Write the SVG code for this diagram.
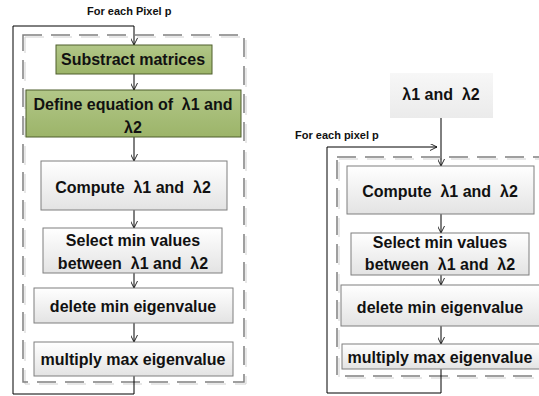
<svg xmlns="http://www.w3.org/2000/svg" width="539" height="396" viewBox="0 0 539 396">
<defs>
<linearGradient id="gGray" x1="0" y1="0" x2="0" y2="1">
<stop offset="0" stop-color="#ffffff"/>
<stop offset="1" stop-color="#e3e3e3"/>
</linearGradient>
<linearGradient id="gGreen" x1="0" y1="0" x2="0" y2="1">
<stop offset="0" stop-color="#b2c788"/>
<stop offset="1" stop-color="#9cb469"/>
</linearGradient>
<linearGradient id="gLight" x1="0" y1="0" x2="0" y2="1">
<stop offset="0" stop-color="#f7f7f7"/>
<stop offset="1" stop-color="#ebebeb"/>
</linearGradient>
<marker id="arr" viewBox="0 0 10 10" refX="10" refY="5" markerWidth="7" markerHeight="7" markerUnits="userSpaceOnUse" orient="auto">
<path d="M0,0 L10,5 L0,10" fill="none" stroke="#000" stroke-width="1.2"/>
</marker>
</defs>
<style>
text{font-family:"Liberation Sans",Arial,sans-serif;font-weight:bold;fill:#111;white-space:pre;}
.t{font-size:16px;text-anchor:middle;}
.s{font-size:11px;}
.gray{fill:url(#gGray);stroke:#7f7f7f;stroke-width:1;}
.green{fill:url(#gGreen);stroke:#4f5f2d;stroke-width:1;}
.dash{fill:none;stroke:#808080;stroke-width:1.5;stroke-dasharray:19 9;}
.dash2{fill:none;stroke:#d0d0d0;stroke-width:1;stroke-dasharray:19 9;}
.c{fill:none;stroke:#000;stroke-width:1;}
</style>

<g id="loop-regions">
<rect class="dash2" x="25" y="37" width="221" height="347"/>
<rect class="dash" x="23" y="35" width="221" height="347"/>
<rect class="dash2" x="339" y="159" width="212" height="219"/>
<rect class="dash" x="337" y="157" width="212" height="219"/>
</g>

<g id="connectors">
<path class="c" d="M134,376 V394 H13 V26 H134 V45" marker-end="url(#arr)"/>
<path class="c" d="M134,74 V90" marker-end="url(#arr)"/>
<path class="c" d="M134,137 V161" marker-end="url(#arr)"/>
<path class="c" d="M134,210 V228" marker-end="url(#arr)"/>
<path class="c" d="M134,273 V288" marker-end="url(#arr)"/>
<path class="c" d="M134,323 V342" marker-end="url(#arr)"/>
<path class="c" d="M441,118 V166" marker-end="url(#arr)"/>
<path class="c" d="M441,369 V393 H327 V147 H437" marker-end="url(#arr)"/>
<path class="c" d="M441,214 V233" marker-end="url(#arr)"/>
<path class="c" d="M441,275 V285" marker-end="url(#arr)"/>
<path class="c" d="M441,326 V344" marker-end="url(#arr)"/>
</g>

<g id="label-left"><text class="s" x="87" y="15">For each Pixel p</text></g>
<g id="label-right"><text class="s" x="295" y="139">For each pixel p</text></g>

<g id="subtract">
<rect class="green" x="56" y="45" width="156" height="29"/>
<text class="t" x="133" y="65">Substract matrices</text>
</g>
<g id="define">
<rect class="green" x="26" y="90" width="215" height="47"/>
<text class="t" x="133" y="110" xml:space="preserve">Define equation of  λ1 and</text>
<text class="t" x="133" y="133">λ2</text>
</g>
<g id="compute-left">
<rect class="gray" x="41" y="161" width="186" height="49"/>
<text class="t" x="133" y="193" xml:space="preserve">Compute  λ1 and  λ2</text>
</g>
<g id="select-left">
<rect class="gray" x="43" y="228" width="179" height="45"/>
<text class="t" x="133" y="246">Select min values</text>
<text class="t" x="133" y="269" xml:space="preserve">between  λ1 and  λ2</text>
</g>
<g id="delete-left">
<rect class="gray" x="34" y="288" width="199" height="35"/>
<text class="t" x="133" y="312">delete min eigenvalue</text>
</g>
<g id="multiply-left">
<rect class="gray" x="34" y="342" width="199" height="34"/>
<text class="t" x="133" y="365">multiply max eigenvalue</text>
</g>

<g id="lambdas">
<rect x="390" y="73" width="103" height="45" fill="url(#gLight)"/>
<text class="t" x="441" y="100" xml:space="preserve">λ1 and  λ2</text>
</g>
<g id="compute-right">
<rect class="gray" x="347" y="166" width="187" height="48"/>
<text class="t" x="440" y="197" xml:space="preserve">Compute  λ1 and  λ2</text>
</g>
<g id="select-right">
<rect class="gray" x="351" y="233" width="178" height="42"/>
<text class="t" x="440" y="248">Select min values</text>
<text class="t" x="440" y="270" xml:space="preserve">between  λ1 and  λ2</text>
</g>
<g id="delete-right">
<rect class="gray" x="341" y="285" width="200" height="41"/>
<text class="t" x="440" y="313">delete min eigenvalue</text>
</g>
<g id="multiply-right">
<rect class="gray" x="342" y="344" width="200" height="25"/>
<text class="t" x="440" y="363">multiply max eigenvalue</text>
</g>
</svg>
